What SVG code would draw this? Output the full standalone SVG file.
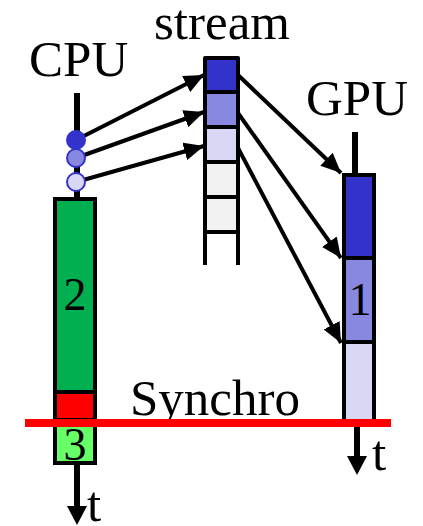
<svg xmlns="http://www.w3.org/2000/svg" width="423" height="526" viewBox="0 0 423 526">
<defs>
<marker id="ah" markerUnits="userSpaceOnUse" markerWidth="22" markerHeight="18" refX="20" refY="9" orient="auto"><path d="M0,0 L20,9 L0,18 Z" fill="#000"/></marker>
<style>
text{font-family:"Liberation Serif","Times New Roman",serif;fill:#000}
.lbl{font-size:51px}
.num{font-size:46px;text-anchor:middle}
.box{stroke:#000;stroke-width:4}
.conn{stroke:#000;stroke-width:4;fill:none;marker-end:url(#ah)}
.axis{stroke:#000;stroke-width:6}
.c1{fill:#3333cc}.c2{fill:#8888e0}.c3{fill:#d8d8f4}.cg{fill:#f2f2f2}
</style>
</defs>
<rect width="423" height="526" fill="#fff"/>
<g id="cpu">
<text class="lbl" x="29" y="76">CPU</text>
<line class="axis" x1="77" y1="93" x2="77" y2="199"/>
<rect class="box" x="55" y="199" width="40" height="193" fill="#00b050"/>
<rect class="box" x="55" y="392" width="40" height="28" fill="#ff0000"/>
<rect class="box" x="55" y="420" width="40" height="43" fill="#66ff66"/>
<text class="num" x="75" y="310">2</text>
<text class="num" x="75" y="460">3</text>
<line class="axis" x1="77" y1="463" x2="77" y2="508"/>
<path d="M67,506 L87,506 L77,525 Z" fill="#000"/>
<text class="lbl" x="87" y="521">t</text>
</g>
<g id="stream">
<text class="lbl" x="154" y="39">stream</text>
<rect class="c1" x="205" y="58" width="33" height="34"/>
<rect class="c2" x="205" y="92" width="33" height="35"/>
<rect class="c3" x="205" y="127" width="33" height="35"/>
<rect class="cg" x="205" y="162" width="33" height="35"/>
<rect class="cg" x="205" y="197" width="33" height="35"/>
<path d="M205,265 V58 H238 V265 M205,92 H238 M205,127 H238 M205,162 H238 M205,197 H238 M205,232 H238" stroke="#000" stroke-width="4" fill="none" stroke-linejoin="round"/>
</g>
<g id="gpu">
<text class="lbl" x="306" y="115">GPU</text>
<line class="axis" x1="355" y1="132" x2="355" y2="175"/>
<rect class="box c1" x="344" y="175" width="30" height="83"/>
<rect class="box c2" x="344" y="258" width="30" height="84"/>
<rect class="box c3" x="344" y="342" width="30" height="80"/>
<text class="num" x="360" y="315">1</text>
<line class="axis" x1="357" y1="422" x2="357" y2="458"/>
<path d="M347,456 L367,456 L357,475 Z" fill="#000"/>
<text class="lbl" x="372" y="470">t</text>
</g>
<g id="connectors">
<line class="conn" x1="76" y1="140" x2="204" y2="75"/>
<line class="conn" x1="76" y1="158" x2="204" y2="112"/>
<line class="conn" x1="76" y1="182" x2="204" y2="146"/>
<line class="conn" x1="238" y1="75" x2="341" y2="173"/>
<line class="conn" x1="238" y1="113" x2="341" y2="258"/>
<line class="conn" x1="238" y1="148" x2="341" y2="343"/>
</g>
<g id="tokens">
<circle cx="76" cy="140" r="9" fill="#3333cc" stroke="#3333cc" stroke-width="2"/>
<circle cx="76" cy="158" r="9" fill="#8888e0" stroke="#3333cc" stroke-width="2"/>
<circle cx="76" cy="182" r="9" fill="#d8d8f4" stroke="#3333cc" stroke-width="2"/>
</g>
<g id="synchro">
<text class="lbl" x="130" y="415">Synchro</text>
<line x1="25" y1="423" x2="391" y2="423" stroke="#ff0000" stroke-width="8"/>
</g>
</svg>
